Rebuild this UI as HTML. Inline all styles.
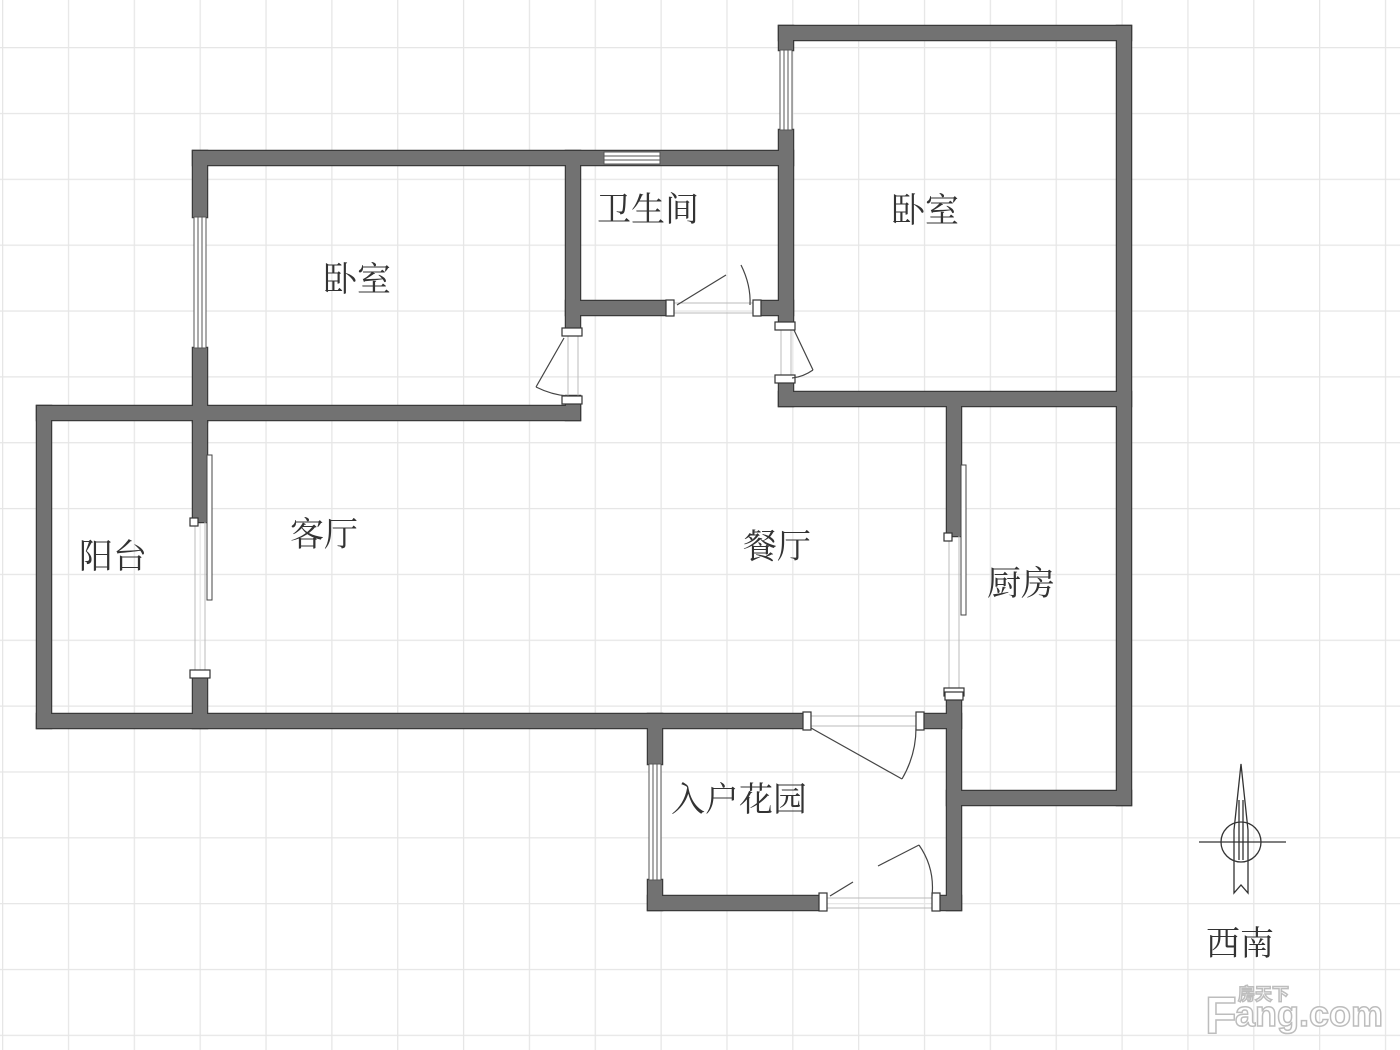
<!DOCTYPE html>
<html><head><meta charset="utf-8"><style>
html,body{margin:0;padding:0;background:#fff;}
svg{display:block;}
text{font-family:"Liberation Serif","Noto Serif CJK SC",serif;fill:#333;}
</style></head><body>
<svg width="1400" height="1050" viewBox="0 0 1400 1050" xmlns="http://www.w3.org/2000/svg">
<defs>
<pattern id="g" x="2" y="47" width="65.85" height="65.85" patternUnits="userSpaceOnUse">
<path d="M0.5 0V65.85M0 0.5H65.85" stroke="#e6e6e6" stroke-width="1.5" fill="none"/>
</pattern>
<g id="w">
<rect x="193" y="151" width="600" height="14"/>
<rect x="193" y="151" width="14" height="66"/>
<rect x="193" y="348" width="14" height="74"/>
<rect x="779" y="26" width="352" height="14"/>
<rect x="779" y="26" width="14" height="24"/>
<rect x="779" y="130" width="14" height="192"/>
<rect x="1117" y="26" width="14" height="779"/>
<rect x="779" y="392" width="352" height="14"/>
<rect x="779" y="378" width="14" height="28"/>
<rect x="566" y="151" width="14" height="180"/>
<rect x="566" y="301" width="106" height="14"/>
<rect x="755" y="301" width="38" height="14"/>
<rect x="37" y="406" width="543" height="14"/>
<rect x="566" y="396" width="14" height="24"/>
<rect x="37" y="406" width="14" height="322"/>
<rect x="193" y="406" width="14" height="116"/>
<rect x="193" y="672" width="14" height="56"/>
<rect x="37" y="714" width="770" height="14"/>
<rect x="947" y="406" width="14" height="130"/>
<rect x="947" y="692" width="14" height="218"/>
<rect x="918" y="714" width="43" height="14"/>
<rect x="947" y="791" width="184" height="14"/>
<rect x="648" y="714" width="14" height="50"/>
<rect x="648" y="880" width="14" height="30"/>
<rect x="648" y="896" width="178" height="14"/>
<rect x="935" y="896" width="26" height="14"/>
</g>
</defs>
<rect width="1400" height="1050" fill="url(#g)"/>
<use href="#w" fill="none" stroke="#3a3a3a" stroke-width="2.5"/>
<use href="#w" fill="#727272"/>
<g fill="#fff" stroke="#555" stroke-width="1">
<rect x="194" y="217" width="12" height="131"/>
<line x1="198" y1="217" x2="198" y2="348"/><line x1="202" y1="217" x2="202" y2="348"/>
<rect x="780" y="50" width="12" height="80"/>
<line x1="784" y1="50" x2="784" y2="130"/><line x1="788" y1="50" x2="788" y2="130"/>
<rect x="604" y="152" width="56" height="12"/>
<line x1="604" y1="156" x2="660" y2="156"/><line x1="604" y1="160" x2="660" y2="160"/>
<rect x="649" y="764" width="12" height="116"/>
<line x1="653" y1="764" x2="653" y2="880"/><line x1="657" y1="764" x2="657" y2="880"/>
</g>
<g fill="#fff" stroke="#444" stroke-width="1">
<rect x="207" y="455" width="5" height="145"/>
<rect x="961" y="465" width="5" height="150"/>
</g>
<g stroke="#bbb" stroke-width="1" fill="none">
<line x1="195" y1="522" x2="195" y2="672"/><line x1="205" y1="522" x2="205" y2="672"/>
<line x1="949" y1="536" x2="949" y2="692"/><line x1="959" y1="536" x2="959" y2="692"/>
<line x1="672" y1="303" x2="755" y2="303"/><line x1="672" y1="313" x2="755" y2="313"/>
<line x1="568" y1="331" x2="568" y2="396"/><line x1="578" y1="331" x2="578" y2="396"/>
<line x1="781" y1="322" x2="781" y2="378"/><line x1="791" y1="322" x2="791" y2="378"/>
<line x1="807" y1="716" x2="918" y2="716"/><line x1="807" y1="726" x2="918" y2="726"/>
<line x1="826" y1="898" x2="935" y2="898"/><line x1="826" y1="908" x2="935" y2="908"/>
</g>
<g fill="#fff" stroke="#333" stroke-width="1.2">
<rect x="190" y="518" width="8" height="8"/>
<rect x="190" y="670" width="20" height="8"/>
<rect x="944" y="533" width="8" height="8"/>
<rect x="944" y="688" width="20" height="8"/>
<rect x="666" y="300" width="8" height="16"/>
<rect x="753" y="300" width="8" height="16"/>
<rect x="562" y="328" width="20" height="8"/>
<rect x="562" y="396" width="20" height="8"/>
<rect x="775" y="322" width="20" height="8"/>
<rect x="775" y="375" width="20" height="8"/>
<rect x="803" y="712" width="8" height="18"/>
<rect x="916" y="712" width="8" height="18"/>
<rect x="945" y="692" width="18" height="8"/>
<rect x="819" y="893" width="8" height="18"/>
<rect x="932" y="893" width="8" height="18"/>
</g>
<g stroke="#444" stroke-width="1.2" fill="none">
<line x1="677" y1="305" x2="726" y2="275"/>
<path d="M741 265 Q751 285 750 305"/>
<line x1="564" y1="338" x2="536" y2="387"/>
<path d="M536 387 Q552 395 568 396"/>
<line x1="794" y1="330" x2="813" y2="370"/>
<path d="M813 370 Q803 377 792 378"/>
<line x1="811" y1="728" x2="902" y2="779"/>
<path d="M902 779 Q916 755 916 728"/>
<line x1="830" y1="896" x2="853" y2="882"/>
<line x1="878" y1="866" x2="919" y2="845"/>
<path d="M919 845 Q935 868 932 896"/>
</g>
<g stroke="#333" stroke-width="1.3" fill="none">
<circle cx="1241" cy="842" r="20"/>
<line x1="1199" y1="842" x2="1286" y2="842"/>
<path d="M1241 764 L1234 830 L1234 893 L1241 885 L1248 893 L1248 830 Z"/>
<line x1="1239" y1="800" x2="1239" y2="860"/><line x1="1243" y1="800" x2="1243" y2="860"/>
</g>
<g font-size="34">
<text x="323" y="291">卧室</text>
<text x="597" y="221">卫生间</text>
<text x="891" y="222">卧室</text>
<text x="79" y="568">阳台</text>
<text x="290" y="546">客厅</text>
<text x="743" y="558">餐厅</text>
<text x="987" y="595">厨房</text>
<text x="671" y="811">入户花园</text>
<text x="1206" y="955">西南</text>
</g>
<g stroke="#bdbdbd" stroke-width="1.5">
<text x="1205" y="1033" font-size="52" style="font-family:'Liberation Sans',sans-serif;font-weight:bold;fill:#fff">F</text>
<text x="1235" y="1026" font-size="36" style="font-family:'Liberation Sans',sans-serif;font-weight:bold;fill:#fff">ang.com</text>
<text x="1238" y="1000" font-size="17" style="font-family:'Liberation Sans','Noto Sans CJK SC',sans-serif;font-weight:bold;fill:#fff">房天下</text>
</g>
</svg>
</body></html>
